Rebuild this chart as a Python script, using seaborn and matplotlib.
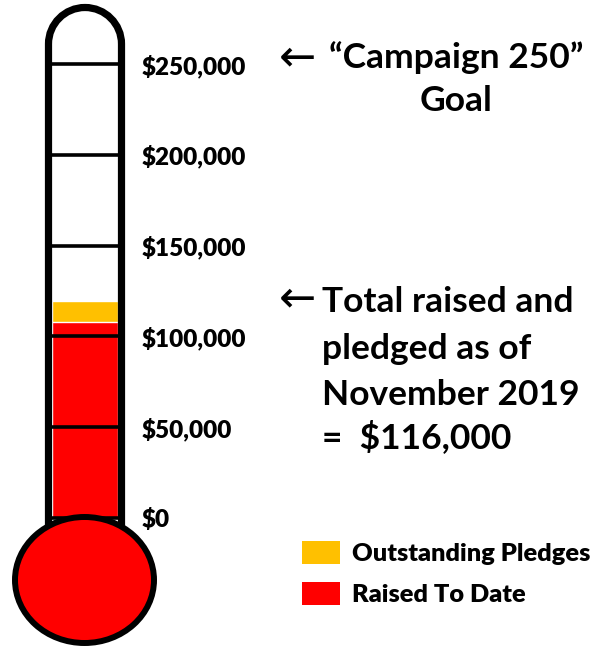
import matplotlib
matplotlib.use("Agg")
import matplotlib.pyplot as plt
import seaborn as sns
import pandas as pd
from matplotlib.patches import Ellipse, Patch
from matplotlib.path import Path
from matplotlib.patches import PathPatch

# data
tick_values = [0, 50000, 100000, 150000, 200000, 250000]
tick_labels = ["$0", "$50,000", "$100,000", "$150,000", "$200,000", "$250,000"]
raised_to_date = 108000
outstanding_pledges = 11500
series_names = ["Outstanding Pledges", "Raised To Date"]
series_colors = ["#FFC000", "#FF0000"]
goal_text = ["\u201cCampaign 250\u201d", "Goal"]
total_text = ["Total raised and", "pledged as of", "November 2019", "=  $116,000"]

sns.set_theme(style="white")
plt.rcParams["font.family"] = ["Lato", "DejaVu Sans"]
plt.rcParams["font.weight"] = "bold"
plt.rcParams["text.color"] = "black"

W, H = 598, 647
fig = plt.figure(figsize=(W / 100, H / 100), dpi=100)

# tube (data axes): y in dollars, $0 at pixel 518, $250k at pixel 64
y0_px, y250_px = 518, 64
per_px = 250000 / (y0_px - y250_px)
tube_l, tube_r = 52, 118
tax = fig.add_axes([tube_l / W, 0, (tube_r - tube_l) / W, 1])
df = pd.DataFrame({"x": ["fund"], "total": [raised_to_date + outstanding_pledges],
                   "raised": [raised_to_date]})
sns.barplot(data=df, x="x", y="total", color=series_colors[0], width=1,
            saturation=1, ax=tax, zorder=1)
sns.barplot(data=df, x="x", y="raised", color=series_colors[1], width=1,
            saturation=1, ax=tax, zorder=1)
tax.set_ylim(-(H - y0_px) * per_px, y0_px * per_px)
tax.set_xlim(-0.5, 0.5)
tax.set_yticks(tick_values)
tax.set_yticklabels(tick_labels, fontweight="heavy")
tax.yaxis.tick_right()
tax.tick_params(axis="y", length=0, pad=17, labelsize=17.5, labelcolor="black")
tax.set_xticks([])
tax.set_xlabel("")
tax.set_ylabel("")
tax.grid(axis="y", color="black", linewidth=2.6)
tax.set_axisbelow(False)
for s in tax.spines.values():
    s.set_visible(False)
tax.patch.set_alpha(0)

# overlay in pixel coords for outline, bulb, text
ax = fig.add_axes([0, 0, 1, 1])
ax.set_xlim(0, W)
ax.set_ylim(H, 0)
ax.axis("off")

cx = (tube_l + tube_r) / 2
xl, xr = 48.5, 121.5
r = (xr - xl) / 2
arc_y = 44
verts = [(xl, 527), (xl, arc_y)]
codes = [Path.MOVETO, Path.LINETO]
k = 0.5523 * r
verts += [(xl, arc_y - k), (cx - k, arc_y - r), (cx, arc_y - r),
          (cx + k, arc_y - r), (xr, arc_y - k), (xr, arc_y)]
codes += [Path.CURVE4] * 6
verts += [(xr, 527)]
codes += [Path.LINETO]
ax.add_patch(PathPatch(Path(verts, codes), fill=False, edgecolor="black",
                       linewidth=5.2, capstyle="butt"))
ax.add_patch(Ellipse((84.5, 580), 139, 126, facecolor=series_colors[1],
                     edgecolor="black", linewidth=4.3))

big = 25.5
ax.text(297, 58, "\u2190", fontsize=32, family="DejaVu Sans", weight="normal",
        ha="center", va="center")
ax.text(456, 68, goal_text[0], fontsize=big, ha="center", va="baseline")
ax.text(456, 111, goal_text[1], fontsize=big, ha="center", va="baseline")

ax.text(297, 299, "\u2190", fontsize=32, family="DejaVu Sans", weight="normal",
        ha="center", va="center")
for i, line in enumerate(total_text):
    ax.text(322, [312, 359, 405, 448][i], line, fontsize=big, ha="left",
            va="baseline")

handles = [Patch(facecolor=c, edgecolor="none") for c in series_colors]
fig.legend(handles, series_names, loc="upper left",
           bbox_to_anchor=(302 / W, 1 - 541 / H), frameon=False,
           prop={"size": 18.3, "weight": "heavy"},
           handlelength=1.5, handleheight=1.03, handletextpad=0.45,
           labelspacing=0.66, borderpad=0, borderaxespad=0)

fig.savefig("out.png", dpi=100)
